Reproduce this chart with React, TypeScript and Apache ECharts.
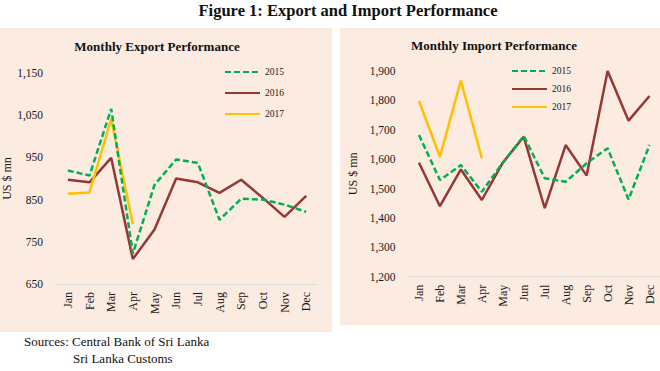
import React, { useEffect, useRef } from "react";
import * as echarts from "echarts";

const months = ["Jan", "Feb", "Mar", "Apr", "May", "Jun", "Jul", "Aug", "Sep", "Oct", "Nov", "Dec"];
const years = ["2015", "2016", "2017"];

const export2015 = [919, 907, 1065, 722, 885, 945, 937, 802, 852, 850, 838, 821];
const export2016 = [897, 891, 949, 709, 779, 900, 891, 866, 897, 854, 809, 859];
const export2017 = [864, 867, 1041, 792];

const import2015 = [1682, 1529, 1580, 1489, 1588, 1679, 1535, 1523, 1586, 1637, 1463, 1648];
const import2016 = [1588, 1440, 1565, 1461, 1588, 1676, 1433, 1648, 1544, 1900, 1731, 1815];
const import2017 = [1798, 1608, 1867, 1603];

const BG = "#FBEBE1";
const FONT = "Liberation Serif";
const TXT = "#1a1a1a";
const C15 = "#00B050";
const C16 = "#953735";
const C17 = "#FFC000";

function lineSeries(name: string, data: number[], idx: number, color: string, dashed: boolean) {
  return {
    type: "line",
    name,
    data,
    xAxisIndex: idx,
    yAxisIndex: idx,
    symbol: "none",
    showSymbol: false,
    lineStyle: { color, width: 2.5, type: dashed ? [6, 3] : "solid" },
    itemStyle: { color },
    z: name === "2017" ? 3 : name === "2016" ? 2 : 4,
  };
}

export default function App() {
  const ref = useRef<HTMLDivElement>(null);
  useEffect(() => {
    if (!ref.current) return;
    const chart = echarts.init(ref.current, undefined, { renderer: "svg" });
    const xAxisCommon = {
      type: "category",
      data: months,
      boundaryGap: true,
      axisLine: { lineStyle: { color: "#D9D9D9", width: 1 } },
      axisTick: { show: false },
      axisLabel: { rotate: 90, color: TXT, fontFamily: FONT, fontSize: 12, margin: 8, interval: 0 },
    };
    const yAxisCommon = {
      type: "value",
      interval: 100,
      axisLine: { show: false },
      axisTick: { show: false },
      splitLine: { show: false },
      nameLocation: "middle",
      nameRotate: 90,
      nameTextStyle: { color: TXT, fontFamily: FONT, fontSize: 12 },
    };
    const legendCommon = {
      orient: "vertical",
      data: years,
      itemWidth: 35,
      itemHeight: 10,
      padding: 0,
      selectedMode: false,
      itemStyle: { opacity: 0 },
      textStyle: { color: TXT, fontFamily: FONT, fontSize: 9.5 },
    };
    chart.setOption({
      animation: false,
      backgroundColor: "#ffffff",
      graphic: [
        { type: "rect", shape: { x: 0, y: 28, width: 332, height: 304 }, style: { fill: BG }, z: -10 },
        { type: "rect", shape: { x: 340, y: 28, width: 320, height: 297 }, style: { fill: BG }, z: -10 },
        {
          type: "text", x: 348, y: 10,
          style: { text: "Figure 1: Export and Import Performance", font: `bold 16.5px "${FONT}"`, fill: "#111", textAlign: "center", textVerticalAlign: "middle" },
        },
        {
          type: "text", x: 157, y: 46,
          style: { text: "Monthly Export Performance", font: `bold 13px "${FONT}"`, fill: "#111", textAlign: "center", textVerticalAlign: "middle" },
        },
        {
          type: "text", x: 494, y: 45,
          style: { text: "Monthly Import Performance", font: `bold 13px "${FONT}"`, fill: "#111", textAlign: "center", textVerticalAlign: "middle" },
        },
        {
          type: "text", x: 24, y: 341,
          style: { text: "Sources: Central Bank of Sri Lanka", font: `13px "${FONT}"`, fill: "#111", textVerticalAlign: "middle" },
        },
        {
          type: "text", x: 73, y: 358,
          style: { text: "Sri Lanka Customs", font: `13px "${FONT}"`, fill: "#111", textVerticalAlign: "middle" },
        },
      ],
      legend: [
        { ...legendCommon, left: 224, top: 67, itemGap: 11 },
        { ...legendCommon, left: 511, top: 66, itemGap: 8 },
      ],
      grid: [
        { left: 57, top: 73, width: 260, height: 211 },
        { left: 408.5, top: 71, width: 255, height: 205.7 },
      ],
      xAxis: [
        { ...xAxisCommon, gridIndex: 0 },
        { ...xAxisCommon, gridIndex: 1 },
      ],
      yAxis: [
        {
          ...yAxisCommon, gridIndex: 0, min: 650, max: 1150, name: "US $ mn", nameGap: 40,
          axisLabel: { color: TXT, fontFamily: FONT, fontSize: 11.5, margin: 14, formatter: (v: number) => v.toLocaleString("en-US") },
        },
        {
          ...yAxisCommon, gridIndex: 1, min: 1200, max: 1900, name: "US $ mn", nameGap: 50,
          axisLabel: { color: TXT, fontFamily: FONT, fontSize: 11.5, margin: 13, formatter: (v: number) => v.toLocaleString("en-US") },
        },
      ],
      series: [
        lineSeries("2016", export2016, 0, C16, false),
        lineSeries("2017", export2017, 0, C17, false),
        lineSeries("2015", export2015, 0, C15, true),
        lineSeries("2016", import2016, 1, C16, false),
        lineSeries("2017", import2017, 1, C17, false),
        lineSeries("2015", import2015, 1, C15, true),
      ],
    });
    return () => chart.dispose();
  }, []);
  return <div ref={ref} style={{ position: "fixed", left: 0, top: 0, width: 660, height: 371 }} />;
}
